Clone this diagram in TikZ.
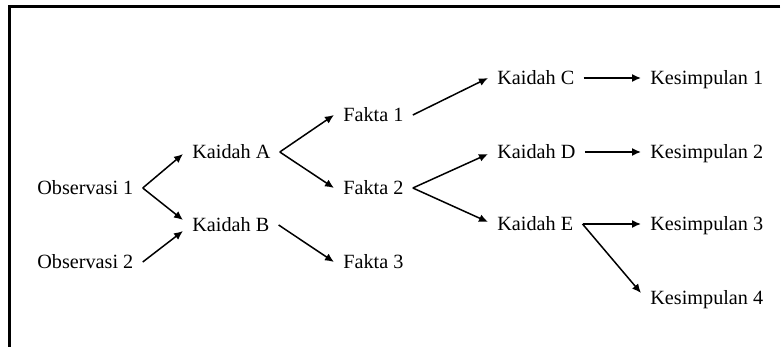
\documentclass[tikz,border=0pt]{standalone}
\usepackage{fontspec}
\setmainfont{Liberation Serif}
\usepackage{tikz}
\usetikzlibrary{arrows.meta}

\begin{document}
\begin{tikzpicture}[x=0.5pt,y=-0.5pt]
                \tikzstyle{every node}+=[inner xsep=4.5pt, inner ysep=0pt, text height=7pt, text depth=0pt, anchor=west, font=\fontsize{10.1}{12}\selectfont]
                \tikzstyle{link}=[black, line width=0.75pt, -{Latex[length=4.5pt,width=4pt]}]
                \useasboundingbox (0,0) rectangle (781,347);
                \draw [black, line width=1.5pt] (780,7) -- (9,7) -- (9,347);
                \node (obs1) at (28,188) {Observasi 1};
                \node (obs2) at (28,262) {Observasi 2};
                \node (ka) at (183,152) {Kaidah A};
                \node (kb) at (183,225) {Kaidah B};
                \node (f1) at (334,115) {Fakta 1};
                \node (f2) at (334,188) {Fakta 2};
                \node (f3) at (334,262) {Fakta 3};
                \node (kc) at (488,78) {Kaidah C};
                \node (kd) at (488,152) {Kaidah D};
                \node (ke) at (488,224) {Kaidah E};
                \node (k1) at (641,78) {Kesimpulan 1};
                \node (k2) at (641,152) {Kesimpulan 2};
                \node (k3) at (641,224) {Kesimpulan 3};
                \node (k4) at (641,297) {Kesimpulan 4};
                \draw [link] (obs1.east) -- ([yshift=-1pt]ka.west);
                \draw [link] (obs1.east) -- ([yshift=2.5pt]kb.west);
                \draw [link] (obs2.east) -- ([yshift=-3pt]kb.west);
                \draw [link] (ka.east) -- (f1.west);
                \draw [link] (ka.east) -- (f2.west);
                \draw [link] (kb.east) -- (f3.west);
                \draw [link] (f1.east) -- (kc.west);
                \draw [link] (f2.east) -- ([yshift=-1pt]kd.west);
                \draw [link] (f2.east) -- ([yshift=1pt]ke.west);
                \draw [link] (kc.east) -- (k1.west);
                \draw [link] (kd.east) -- (k2.west);
                \draw [link] (ke.east) -- (k3.west);
                \draw [link] (ke.east) -- ([yshift=2pt]k4.west);
\end{tikzpicture}
\end{document}
